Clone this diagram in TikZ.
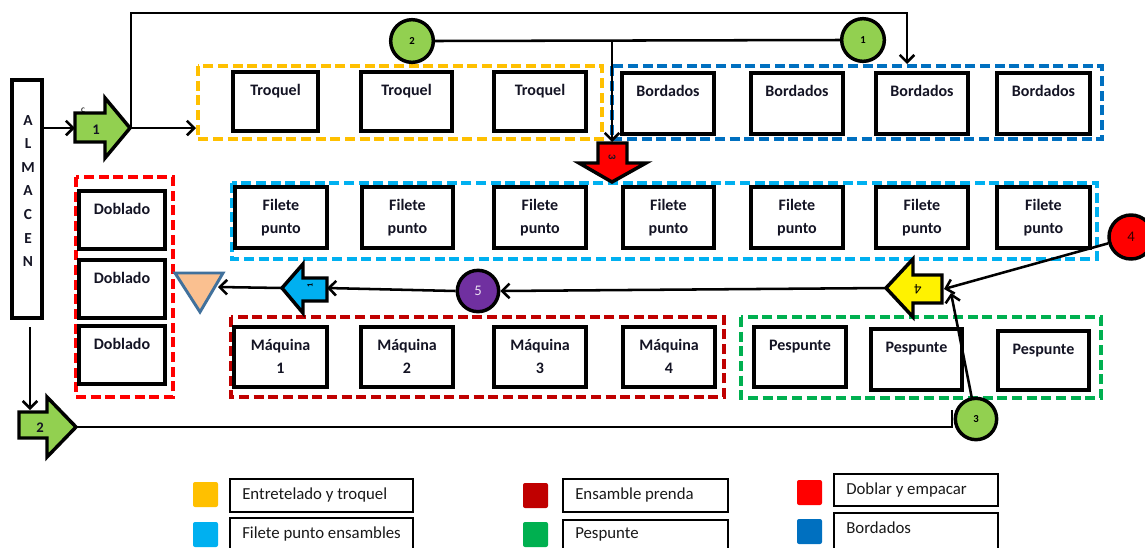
\documentclass[tikz,border=0pt]{standalone}
\usepackage{fontspec}
\setmainfont{Carlito}
\usetikzlibrary{arrows.meta}
\definecolor{cYel}{HTML}{FFC000}
\definecolor{cNavy}{HTML}{0070C0}
\definecolor{cCyan}{HTML}{00B0F0}
\definecolor{cRed}{HTML}{FF0000}
\definecolor{cDRed}{HTML}{C00000}
\definecolor{cGrn}{HTML}{00B050}
\definecolor{cLGrn}{HTML}{92D050}
\definecolor{cPurp}{HTML}{7030A0}
\definecolor{cPeach}{HTML}{FAC090}
\definecolor{cSlate}{HTML}{41719C}
\definecolor{cInk}{HTML}{141424}

% work box: name, x1, y1, x2, y2, first line, second line
\newcommand{\wbx}[7]{%
  \node[wbox, minimum width={(#4-#2)*0.75pt}, minimum height={(#5-#3)*0.75pt}] (#1) at ({(#2+#4)/2},{(#3+#5)/2}) {};
  \node[btxt] (#1-a) at ({(#2+#4)/2},{#3+23}) {#6};
  \ifx\relax#7\relax\else\node[btxt] (#1-b) at ({(#2+#4)/2},{#3+46}) {#7};\fi}

% legend entry: name, swatch colour, swatch x, swatch y, box x1, y1, x2, y2, text baseline
\newcommand{\lgd}[9]{%
  \fill[#2, rounded corners=1.5pt] (#3,#4) rectangle ({#3+25},{#4+25});
  \node[lgbox, minimum width={(#7-#5)*0.75pt}, minimum height={(#8-#6)*0.75pt}] (#1) at ({(#5+#7)/2},{(#6+#8)/2}) {};
  \node[ltxt] (#1-t) at ({#5+12},#9) {\lgdtext};}

\begin{document}
\begin{tikzpicture}[x=0.75pt,y=-0.75pt,
  wbox/.style={draw, line width=2.6pt, fill=white, inner sep=0pt},
  lgbox/.style={draw, line width=1.2pt, inner sep=0pt},
  btxt/.style={font=\fontsize{12}{14}\selectfont\bfseries, text=cInk, inner sep=0pt, anchor=base},
  ltxt/.style={font=\fontsize{12.6}{14}\selectfont, text=black!90, inner sep=0pt, anchor=base west},
  grp/.style={draw, line width=2.5pt, dash pattern=on 7.5pt off 3.5pt},
  blk/.style={draw, line width=2.6pt, line join=miter},
  circ/.style={circle, draw, line width=2.6pt, minimum size=32pt, inner sep=0pt},
  ln/.style={line width=1.9pt},
  conn/.style={ln, -{Straight Barb[length=5.5pt,width=11pt]}},
  tiny/.style={font=\fontsize{8}{9}\selectfont\bfseries, inner sep=0pt}]

\useasboundingbox (0,0) rectangle (1145,547);
\clip (0,0) rectangle (1145,547);
\fill[white] (0,0) rectangle (1145,547);

% ---- groups of stations
\draw[grp, cYel]  (198,66) rectangle (602,139);
\draw[grp, cNavy] (612,66) rectangle (1102,139);
\draw[grp, cCyan] (232,183) rectangle (1097,259);
\draw[grp, cRed]  (76,177) rectangle (173,397);
\draw[grp, cDRed] (231,317) rectangle (724,397);
\draw[grp, cGrn]  (741,317) rectangle (1101,398);

% ---- warehouse
\node[wbox, minimum width={30*0.75pt}, minimum height={238*0.75pt}] (alm) at (27,199) {};
\foreach \l [count=\i] in {A,L,M,A,C,E,N}
  \node[btxt, font=\fontsize{11.5}{13}\selectfont\bfseries] (alm-\i) at (28,{119+23.6*(\i-1)+6}) {\l};

% ---- stations
\wbx{tq1}{233}{72}{318}{131}{Troquel}{}
\wbx{tq2}{361}{72}{452}{131}{Troquel}{}
\wbx{tq3}{494}{72}{586}{131}{Troquel}{}
\wbx{bd1}{622}{73}{714}{134}{Bordados}{}
\wbx{bd2}{751}{73}{843}{134}{Bordados}{}
\wbx{bd3}{876}{73}{968}{134}{Bordados}{}
\wbx{bd4}{997}{73}{1090}{134}{Bordados}{}
\wbx{fp1}{235}{187}{327}{248}{Filete}{punto}
\wbx{fp2}{362}{187}{453}{248}{Filete}{punto}
\wbx{fp3}{494}{187}{586}{248}{Filete}{punto}
\wbx{fp4}{623}{187}{714}{248}{Filete}{punto}
\wbx{fp5}{751}{187}{843}{248}{Filete}{punto}
\wbx{fp6}{876}{187}{968}{248}{Filete}{punto}
\wbx{fp7}{997}{187}{1090}{248}{Filete}{punto}
\wbx{db1}{79}{191}{165}{249}{Doblado}{}
\wbx{db2}{79}{260}{165}{318}{Doblado}{}
\wbx{db3}{79}{326}{165}{384}{Doblado}{}
\wbx{mq1}{234}{327}{327}{387}{Máquina}{1}
\wbx{mq2}{361}{327}{453}{387}{Máquina}{2}
\wbx{mq3}{494}{327}{586}{387}{Máquina}{3}
\wbx{mq4}{623}{327}{715}{387}{Máquina}{4}
\wbx{ps1}{754}{327}{846}{387}{Pespunte}{}
\wbx{ps2}{871}{329}{962}{390}{Pespunte}{}
\wbx{ps3}{998}{331}{1089}{390}{Pespunte}{}

% ---- block arrows
\draw[blk, fill=cLGrn] (75,113) -- (105,113) -- (105,98) -- (130,128) -- (105,158) -- (105,142) -- (75,142) -- cycle;
\coordinate (a1in) at (75,128);
\coordinate (a1tip) at (131,128);
\node[btxt, font=\fontsize{11}{13}\selectfont\bfseries] (a1lab) at (96,134) {1};
\node[font=\fontsize{7}{8}\selectfont, inner sep=0pt] (cmark) at (83,110) {c};

\draw[blk, fill=cLGrn] (19,412) -- (47,412) -- (47,397) -- (76,427) -- (47,457) -- (47,438) -- (19,438) -- cycle;
\coordinate (a2in) at (30,410);
\coordinate (a2tip) at (76,427);
\node[btxt, font=\fontsize{11}{13}\selectfont\bfseries] (a2lab) at (40,432) {2};

\draw[blk, fill=cRed] (598,143) -- (627,143) -- (627,163) -- (646,163) -- (612,182) -- (579,163) -- (598,163) -- cycle;
\coordinate (a3in) at (612,142);
\node[tiny, rotate=-90, text=cInk] (a3lab) at (612,157) {3};

\draw[blk, fill=yellow] (942,275) -- (913,275) -- (913,259) -- (886,288) -- (913,317) -- (913,303) -- (942,303) -- cycle;
\coordinate (a4in) at (944,289);
\coordinate (a4in2) at (951,293);
\coordinate (a4tip) at (886,288);
\node[font=\fontsize{11}{13}\selectfont, inner sep=0pt, rotate=180] (a4lab) at (918,289) {4};

\draw[blk, fill=cCyan] (327,278) -- (303,278) -- (303,264) -- (282,288) -- (303,313) -- (303,301) -- (327,301) -- cycle;
\coordinate (a5in) at (327,288);
\coordinate (a5tip) at (282,288);
\node[font=\fontsize{6}{7}\selectfont\bfseries, inner sep=0pt, rotate=90] (a5lab) at (310,285) {1};

% ---- storage triangle
\draw[line width=2.2pt, draw=cSlate, fill=cPeach, line join=miter] (175,273) -- (223,273) -- (200,312) -- cycle;
\coordinate (trin) at (218,287);

% ---- circles
\node[circ, fill=cLGrn] (c1) at (863,40) {};
\node[tiny] (c1l) at (c1) {1};
\node[circ, fill=cLGrn] (c2) at (412,41) {};
\node[tiny] (c2l) at (c2) {2};
\node[circ, fill=cLGrn, minimum size=31pt] (c3) at (976,419) {};
\node[tiny] (c3l) at (c3) {3};
\node[circ, fill=cRed, minimum size=33pt] (c4) at (1131,237) {};
\node[font=\fontsize{11}{13}\selectfont, text=black!80!red, inner sep=0pt] (c4l) at (c4) {4};
\node[circ, fill=cPurp, minimum size=31pt] (c5) at (478,291) {};
\node[font=\fontsize{11}{13}\selectfont, text=white!85!cPurp, inner sep=0pt] (c5l) at (c5) {5};

% ---- connectors
\coordinate (topR) at (907,13);
\coordinate (bdin) at (907,64);
\coordinate (j3) at (612,41);
\coordinate (grpY) at (196,128);
\coordinate (c3hook) at (952,410);
\coordinate (almS) at (30,327);

\draw[conn] (alm.east |- a1in) -- (a1in);
\draw[conn] (a1tip) -- (grpY);
\draw[conn] (a1tip) |- (topR) -- (bdin);
\draw[ln] (c2.east) -- (c1.west);
\draw[conn] (j3) -- (a3in);
\draw[conn] (c4) -- (a4in);
\draw[conn] (c3) -- (a4in2);
\draw[conn] (a4tip) -- (c5.east);
\draw[conn] (c5.west) -- (a5in);
\draw[conn] (a5tip) -- (trin);
\draw[conn] (almS) -- (a2in);
\draw[ln] (a2tip) -| (c3hook);

% ---- legend
\def\lgdtext{Entretelado y troquel}
\lgd{lg1}{cYel}{193}{482}{230}{479}{413}{512}{499}
\def\lgdtext{Filete punto ensambles}
\lgd{lg2}{cCyan}{193}{522}{230}{518}{413}{565}{538}
\def\lgdtext{Ensamble prenda}
\lgd{lg3}{cDRed}{523}{483}{563}{479}{728}{512}{499}
\def\lgdtext{Pespunte}
\lgd{lg4}{cGrn}{523}{522}{563}{520}{728}{565}{538}
\def\lgdtext{Doblar y empacar}
\lgd{lg5}{cRed}{797}{480}{834}{474}{998}{506}{494}
\def\lgdtext{Bordados}
\lgd{lg6}{cNavy}{797}{519}{834}{513}{998}{565}{533}
\end{tikzpicture}
\end{document}
